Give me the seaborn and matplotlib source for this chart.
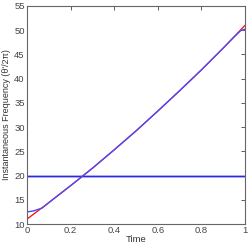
import numpy as np
import pandas as pd
import matplotlib
matplotlib.use('Agg')
import matplotlib.pyplot as plt
import seaborn as sns

# time samples and read-off frequencies
time_true = [0.0, 0.1, 0.2, 0.3, 0.4, 0.5, 0.6, 0.7, 0.8, 0.9, 1.0]
freq_true = [11.0, 14.4, 17.9, 21.5, 25.3, 29.2, 33.3, 37.5, 41.8, 46.3, 51.0]

time_est = [0.0, 0.03, 0.07, 0.1, 0.2, 0.3, 0.4, 0.5, 0.6, 0.7, 0.8, 0.9, 0.95, 0.98, 1.0]
freq_est = [12.5, 12.7, 13.3, 14.4, 17.9, 21.5, 25.3, 29.2, 33.3, 37.5, 41.8, 46.3, 48.6, 49.9, 50.2]

time_const = [0.0, 1.0]
freq_const = [20.0, 20.0]

df_true = pd.DataFrame({'Time': time_true, 'Freq': freq_true})
df_est = pd.DataFrame({'Time': time_est, 'Freq': freq_est})
df_const = pd.DataFrame({'Time': time_const, 'Freq': freq_const})

sns.set_style("white")
plt.rcParams['font.family'] = ['Liberation Sans', 'DejaVu Sans']

fig = plt.figure(figsize=(2.49, 2.47), dpi=100)
ax = fig.add_axes([0.108, 0.093, 0.876, 0.883])

sns.lineplot(data=df_const, x='Time', y='Freq', color='#9a9aff', lw=1.8, ax=ax)
sns.lineplot(data=df_const, x='Time', y='Freq', color='#2a2ad8', lw=0.8, ax=ax)
sns.lineplot(data=df_true, x='Time', y='Freq', color='red', lw=0.9, ax=ax)
sns.lineplot(data=df_est, x='Time', y='Freq', color='#4a4aff', lw=1.0, ax=ax)

ax.set_xlim(0, 1)
ax.set_ylim(10, 55)
ax.set_xticks([0, 0.2, 0.4, 0.6, 0.8, 1])
ax.set_xticklabels(['0', '0.2', '0.4', '0.6', '0.8', '1'])
ax.set_yticks(range(10, 56, 5))
ax.tick_params(direction='in', length=3, width=0.6, labelsize=6.8, colors='#444444',
               top=True, right=True, pad=1.5)
for s in ax.spines.values():
    s.set_color('#666666')
    s.set_linewidth(0.8)
ax.set_xlabel('Time', fontsize=6.8, color='#333333', labelpad=0)
ax.set_ylabel("Instantaneous Frequency (θ'/2π)", fontsize=6.5, color='#333333', labelpad=2)

fig.savefig('out.png', dpi=100)
